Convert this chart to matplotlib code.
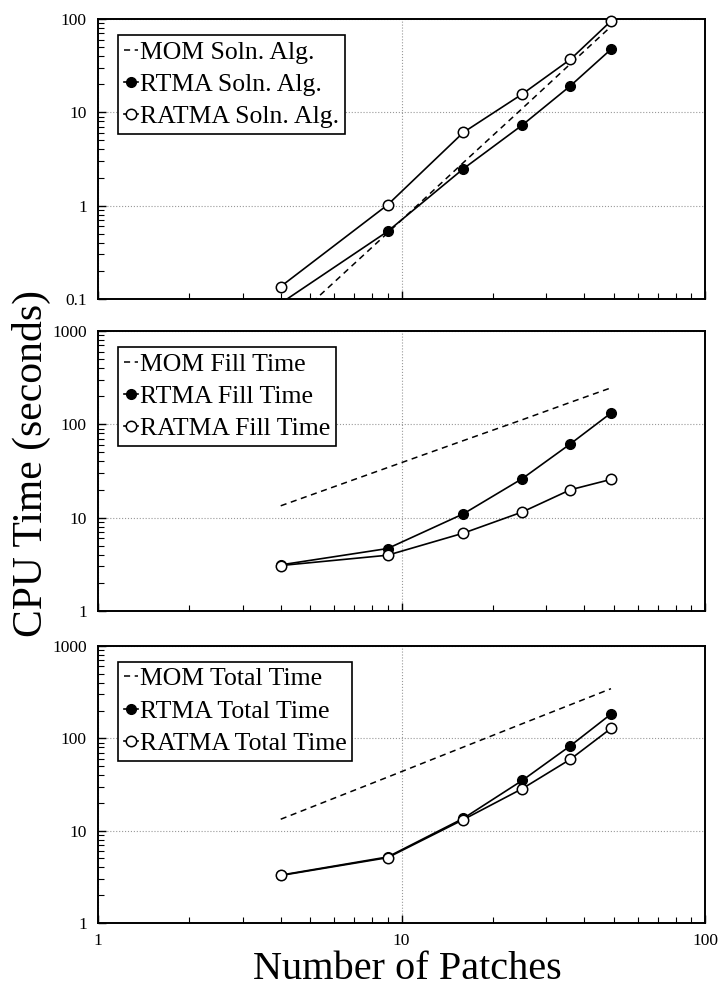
import numpy as np
import matplotlib
matplotlib.use("Agg")
from matplotlib import pyplot as plt
from matplotlib.ticker import LogLocator, NullFormatter, FixedLocator, FixedFormatter

plt.rcParams['font.family'] = ['Liberation Serif', 'DejaVu Serif']

# number of patches
patches = [4, 9, 16, 25, 36, 49]

# solution algorithm (seconds)
mom_soln = [0.045, 0.51, 2.9, 11.0, 33.0, 83.0]
rtma_soln = [0.09, 0.53, 2.49, 7.3, 19.2, 47.3]
ratma_soln = [0.136, 1.02, 6.1, 15.7, 36.9, 95.0]

# fill time (seconds)
mom_fill = [13.4, 34.4, 67.0, 112.0, 172.0, 246.0]
rtma_fill = [3.12, 4.67, 11.0, 26.2, 61.7, 132.0]
ratma_fill = [3.07, 3.96, 6.83, 11.5, 19.9, 25.7]

# total time (seconds)
mom_total = [13.3, 38.0, 80.5, 144.0, 231.0, 345.0]
rtma_total = [3.3, 5.19, 13.6, 35.0, 83.0, 183.0]
ratma_total = [3.27, 5.1, 13.2, 28.5, 59.3, 128.0]

panels = [
    ("Soln. Alg.", mom_soln, rtma_soln, ratma_soln, (0.1, 100), [0.1, 1, 10, 100], ["0.1", "1", "10", "100"]),
    ("Fill Time", mom_fill, rtma_fill, ratma_fill, (1, 1000), [1, 10, 100, 1000], ["1", "10", "100", "1000"]),
    ("Total Time", mom_total, rtma_total, ratma_total, (1, 1000), [1, 10, 100, 1000], ["1", "10", "100", "1000"]),
]

fig = plt.figure(figsize=(7.19, 9.93), dpi=100)
left, width = 98 / 719, 607 / 719
rects = [(19, 299), (331, 611), (646, 923)]

for i, (name, mom, rtma, ratma, ylim, yt, ytl) in enumerate(panels):
    top, bot = rects[i]
    ax = fig.add_axes([left, 1 - bot / 993, width, (bot - top) / 993])
    ax.set_xscale("log")
    ax.set_yscale("log")
    ax.set_xlim(1, 100)
    ax.set_ylim(*ylim)

    ax.plot(patches, mom, ls=(0, (4, 3)), color="black", lw=1.1, label="MOM " + name)
    # first RTMA point of the top panel is below the axis, keep it clipped
    ax.plot(patches, rtma, "-o", color="black", lw=1.2, ms=7, mfc="black", mec="black",
            label="RTMA " + name, clip_on=(i == 0), zorder=3)
    ax.plot(patches, ratma, "-o", color="black", lw=1.2, ms=7.5, mfc="white", mec="black",
            mew=1.1, label="RATMA " + name, clip_on=False, zorder=4)

    ax.yaxis.set_major_locator(FixedLocator(yt))
    ax.yaxis.set_major_formatter(FixedFormatter(ytl))
    ax.yaxis.set_minor_locator(LogLocator(base=10, subs=np.arange(2, 10)))
    ax.yaxis.set_minor_formatter(NullFormatter())
    ax.xaxis.set_major_locator(FixedLocator([1, 10, 100]))
    ax.xaxis.set_minor_locator(LogLocator(base=10, subs=np.arange(2, 10)))
    ax.xaxis.set_minor_formatter(NullFormatter())
    if i < 2:
        ax.xaxis.set_major_formatter(NullFormatter())
    else:
        ax.xaxis.set_major_formatter(FixedFormatter(["1", "10", "100"]))

    ax.tick_params(which="both", direction="in", top=False, right=False, labelsize=12.5)
    ax.tick_params(which="major", length=6, width=1)
    ax.tick_params(which="minor", length=4, width=0.8)
    ax.tick_params(axis="y", pad=8)
    ax.tick_params(axis="x", pad=7)
    ax.grid(True, which="major", ls=":", color="#999999", lw=0.8)
    for s in ax.spines.values():
        s.set_linewidth(1.4)

    leg = ax.legend(loc="upper left", bbox_to_anchor=(0.033, 0.943), borderaxespad=0,
                    fontsize=18.5, handlelength=0.55, handletextpad=0.08,
                    labelspacing=0.36, borderpad=0.22, fancybox=False,
                    frameon=True, edgecolor="black", framealpha=1)
    leg.get_frame().set_linewidth(1.2)

fig.text(0.044, 0.533, "CPU Time (seconds)", rotation=90, fontsize=30,
         ha="center", va="center")
fig.text(0.567, 0.014, "Number of Patches", fontsize=29, ha="center", va="baseline")

fig.savefig("out.png", dpi=100)
